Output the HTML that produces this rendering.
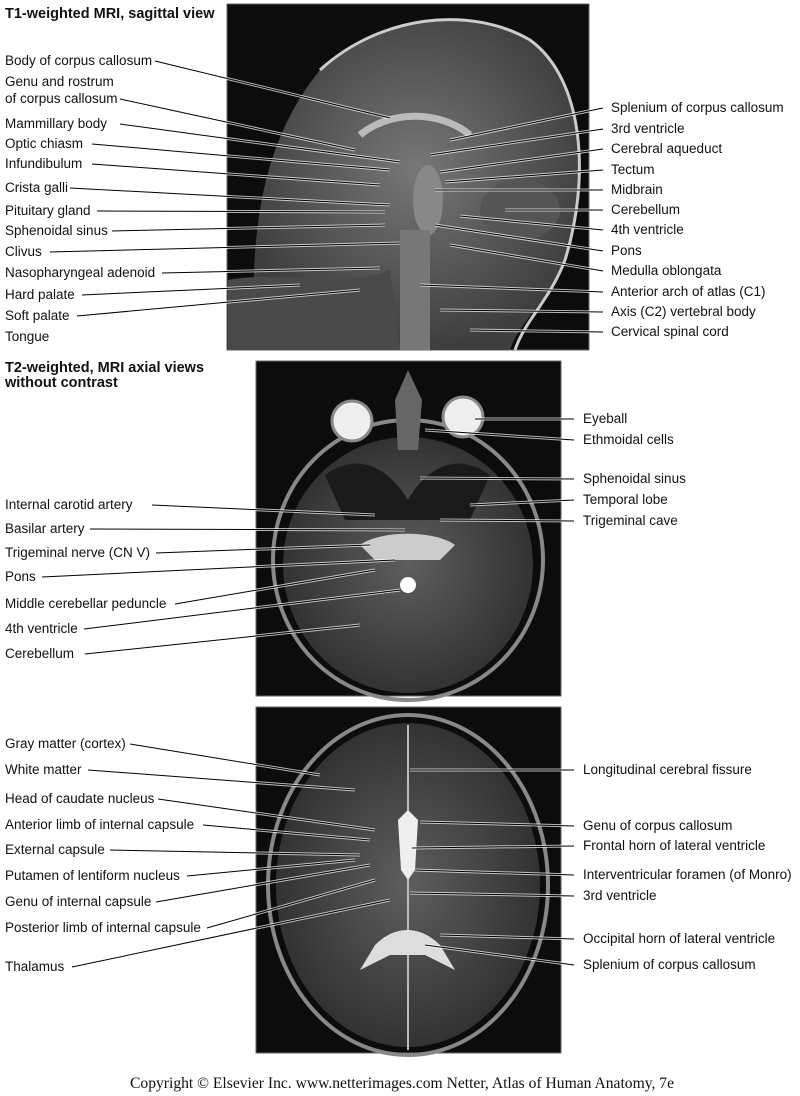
<!DOCTYPE html>
<html><head><meta charset="utf-8"><style>
html,body{margin:0;padding:0;background:#fff}
svg{display:block}
text{font-family:"Liberation Sans",sans-serif;font-size:13.5px;fill:#111}
.t{font-weight:bold;font-size:14.5px}
.c{font-family:"Liberation Serif",serif;font-size:15.6px}
.lw{stroke:#fff;stroke-width:3;fill:none;opacity:.7}
.lb{stroke:#000;stroke-width:1;fill:none}
</style></head><body>
<svg width="800" height="1096" viewBox="0 0 800 1096" xmlns="http://www.w3.org/2000/svg">
<defs>
<radialGradient id="g1" cx="50%" cy="45%" r="55%"><stop offset="0" stop-color="#777"/><stop offset="1" stop-color="#3e3e3e"/></radialGradient>
<radialGradient id="g2" cx="50%" cy="50%" r="55%"><stop offset="0" stop-color="#5e5e5e"/><stop offset="1" stop-color="#2e2e2e"/></radialGradient>
</defs>
<rect x="227" y="4" width="362" height="346" fill="#0c0c0c" stroke="#666"/>
<path d="M255,350 C250,250 255,150 320,70 C380,15 470,5 530,40 C585,80 590,180 565,260 C550,300 520,320 510,350 Z" fill="url(#g1)"/>
<path d="M320,70 C380,15 470,5 530,40 C585,80 590,180 565,260 C550,300 525,320 515,350" fill="none" stroke="#ccc" stroke-width="3"/>
<path d="M360,135 C390,110 440,110 470,135" fill="none" stroke="#bbb" stroke-width="7"/>
<ellipse cx="428" cy="200" rx="15" ry="35" fill="#888"/>
<rect x="400" y="230" width="30" height="120" fill="#777"/>
<path d="M228,280 C280,270 340,290 390,270 L400,350 L228,350 Z" fill="#4a4a4a"/>
<ellipse cx="520" cy="210" rx="40" ry="30" fill="#555"/>
<rect x="256" y="361" width="305" height="335" fill="#0c0c0c" stroke="#666"/>
<ellipse cx="408" cy="560" rx="135" ry="140" fill="none" stroke="#888" stroke-width="4"/>
<ellipse cx="408" cy="565" rx="125" ry="128" fill="url(#g2)"/>
<path d="M325,475 C360,450 390,470 408,500 C425,470 455,450 490,475 L470,520 L345,520 Z" fill="#1a1a1a"/>
<circle cx="352" cy="421" r="20" fill="#eee" stroke="#888" stroke-width="3"/>
<circle cx="463" cy="417" r="20" fill="#eee" stroke="#888" stroke-width="3"/>
<path d="M395,400 L408,370 L422,400 L418,450 L398,450 Z" fill="#666"/>
<path d="M360,545 C380,530 435,530 455,545 L440,560 L375,560 Z" fill="#ccc"/>
<circle cx="408" cy="585" r="8" fill="#fff"/>
<rect x="256" y="707" width="305" height="346" fill="#0c0c0c" stroke="#666"/>
<ellipse cx="408" cy="885" rx="140" ry="170" fill="none" stroke="#888" stroke-width="4"/>
<ellipse cx="408" cy="885" rx="132" ry="162" fill="url(#g2)"/>
<line x1="408" y1="725" x2="408" y2="1050" stroke="#bbb" stroke-width="2"/>
<path d="M398,820 L408,810 L418,820 L415,870 L408,880 L401,870 Z" fill="#eee"/>
<path d="M375,945 C395,925 420,925 440,945 L455,970 L425,955 L390,955 L360,970 Z" fill="#ddd"/>
<g id="L">
<path d="M155,61 L390,118"/><path d="M120,99 L355,150"/><path d="M120,124 L400,162"/><path d="M92,144 L390,170"/>
<path d="M92,164 L380,185"/><path d="M70,188 L390,205"/><path d="M97,211 L385,212"/><path d="M112,231 L385,225"/>
<path d="M50,252 L400,243"/><path d="M162,273 L380,268"/><path d="M82,295 L300,285"/><path d="M77,316 L360,290"/>
<path d="M603,108 L450,140"/><path d="M603,129 L430,155"/><path d="M603,149 L440,172"/><path d="M603,170 L445,182"/>
<path d="M603,190 L435,190"/><path d="M603,210 L505,210"/><path d="M603,230 L460,216"/><path d="M603,251 L435,225"/>
<path d="M603,271 L450,245"/><path d="M603,292 L420,285"/><path d="M603,312 L440,310"/><path d="M603,332 L470,330"/>
<path d="M152,505 L375,515"/><path d="M90,529 L405,530"/><path d="M156,553 L370,545"/><path d="M42,577 L395,560"/>
<path d="M175,604 L375,570"/><path d="M84,629 L400,590"/><path d="M85,654 L360,625"/>
<path d="M574,419 L475,419"/><path d="M574,440 L425,430"/><path d="M574,479 L420,478"/><path d="M574,500 L470,505"/><path d="M574,521 L440,520"/>
<path d="M130,744 L320,775"/><path d="M88,770 L355,790"/><path d="M158,799 L375,830"/><path d="M203,825 L370,840"/>
<path d="M110,850 L360,855"/><path d="M187,876 L355,860"/><path d="M156,902 L370,865"/><path d="M207,928 L375,880"/><path d="M72,967 L390,900"/>
<path d="M574,770 L410,770"/><path d="M574,826 L420,822"/><path d="M574,846 L412,848"/><path d="M574,875 L415,870"/>
<path d="M574,896 L410,893"/><path d="M574,939 L440,935"/><path d="M574,965 L425,945"/>
</g>
<use href="#L" class="lw"/>
<use href="#L" class="lb"/>
<text x="5" y="18" class="t">T1-weighted MRI, sagittal view</text>
<text x="5" y="372" class="t">T2-weighted, MRI axial views</text>
<text x="5" y="387" class="t">without contrast</text>
<text x="5" y="65">Body of corpus callosum</text>
<text x="5" y="86">Genu and rostrum</text>
<text x="5" y="103">of corpus callosum</text>
<text x="5" y="128">Mammillary body</text>
<text x="5" y="148">Optic chiasm</text>
<text x="5" y="168">Infundibulum</text>
<text x="5" y="192">Crista galli</text>
<text x="5" y="215">Pituitary gland</text>
<text x="5" y="235">Sphenoidal sinus</text>
<text x="5" y="256">Clivus</text>
<text x="5" y="277">Nasopharyngeal adenoid</text>
<text x="5" y="299">Hard palate</text>
<text x="5" y="320">Soft palate</text>
<text x="5" y="341">Tongue</text>
<text x="611" y="112">Splenium of corpus callosum</text>
<text x="611" y="133">3rd ventricle</text>
<text x="611" y="153">Cerebral aqueduct</text>
<text x="611" y="174">Tectum</text>
<text x="611" y="194">Midbrain</text>
<text x="611" y="214">Cerebellum</text>
<text x="611" y="234">4th ventricle</text>
<text x="611" y="255">Pons</text>
<text x="611" y="275">Medulla oblongata</text>
<text x="611" y="296">Anterior arch of atlas (C1)</text>
<text x="611" y="316">Axis (C2) vertebral body</text>
<text x="611" y="336">Cervical spinal cord</text>
<text x="5" y="509">Internal carotid  artery</text>
<text x="5" y="533">Basilar artery</text>
<text x="5" y="557">Trigeminal nerve (CN V)</text>
<text x="5" y="581">Pons</text>
<text x="5" y="608">Middle cerebellar peduncle</text>
<text x="5" y="633">4th ventricle</text>
<text x="5" y="658">Cerebellum</text>
<text x="583" y="423">Eyeball</text>
<text x="583" y="444">Ethmoidal cells</text>
<text x="583" y="483">Sphenoidal sinus</text>
<text x="583" y="504">Temporal lobe</text>
<text x="583" y="525">Trigeminal cave</text>
<text x="5" y="748">Gray matter (cortex)</text>
<text x="5" y="774">White matter</text>
<text x="5" y="803">Head of caudate nucleus</text>
<text x="5" y="829">Anterior limb of internal capsule</text>
<text x="5" y="854">External capsule</text>
<text x="5" y="880">Putamen of lentiform nucleus</text>
<text x="5" y="906">Genu of internal capsule</text>
<text x="5" y="932">Posterior limb of internal capsule</text>
<text x="5" y="971">Thalamus</text>
<text x="583" y="774">Longitudinal cerebral fissure</text>
<text x="583" y="830">Genu of corpus callosum</text>
<text x="583" y="850">Frontal horn of lateral ventricle</text>
<text x="583" y="879">Interventricular foramen (of Monro)</text>
<text x="583" y="900">3rd ventricle</text>
<text x="583" y="943">Occipital horn of lateral ventricle</text>
<text x="583" y="969">Splenium of corpus callosum</text>
<text x="130" y="1088" class="c">Copyright © Elsevier Inc.  www.netterimages.com Netter, Atlas of Human Anatomy, 7e</text>
</svg>
</body></html>
